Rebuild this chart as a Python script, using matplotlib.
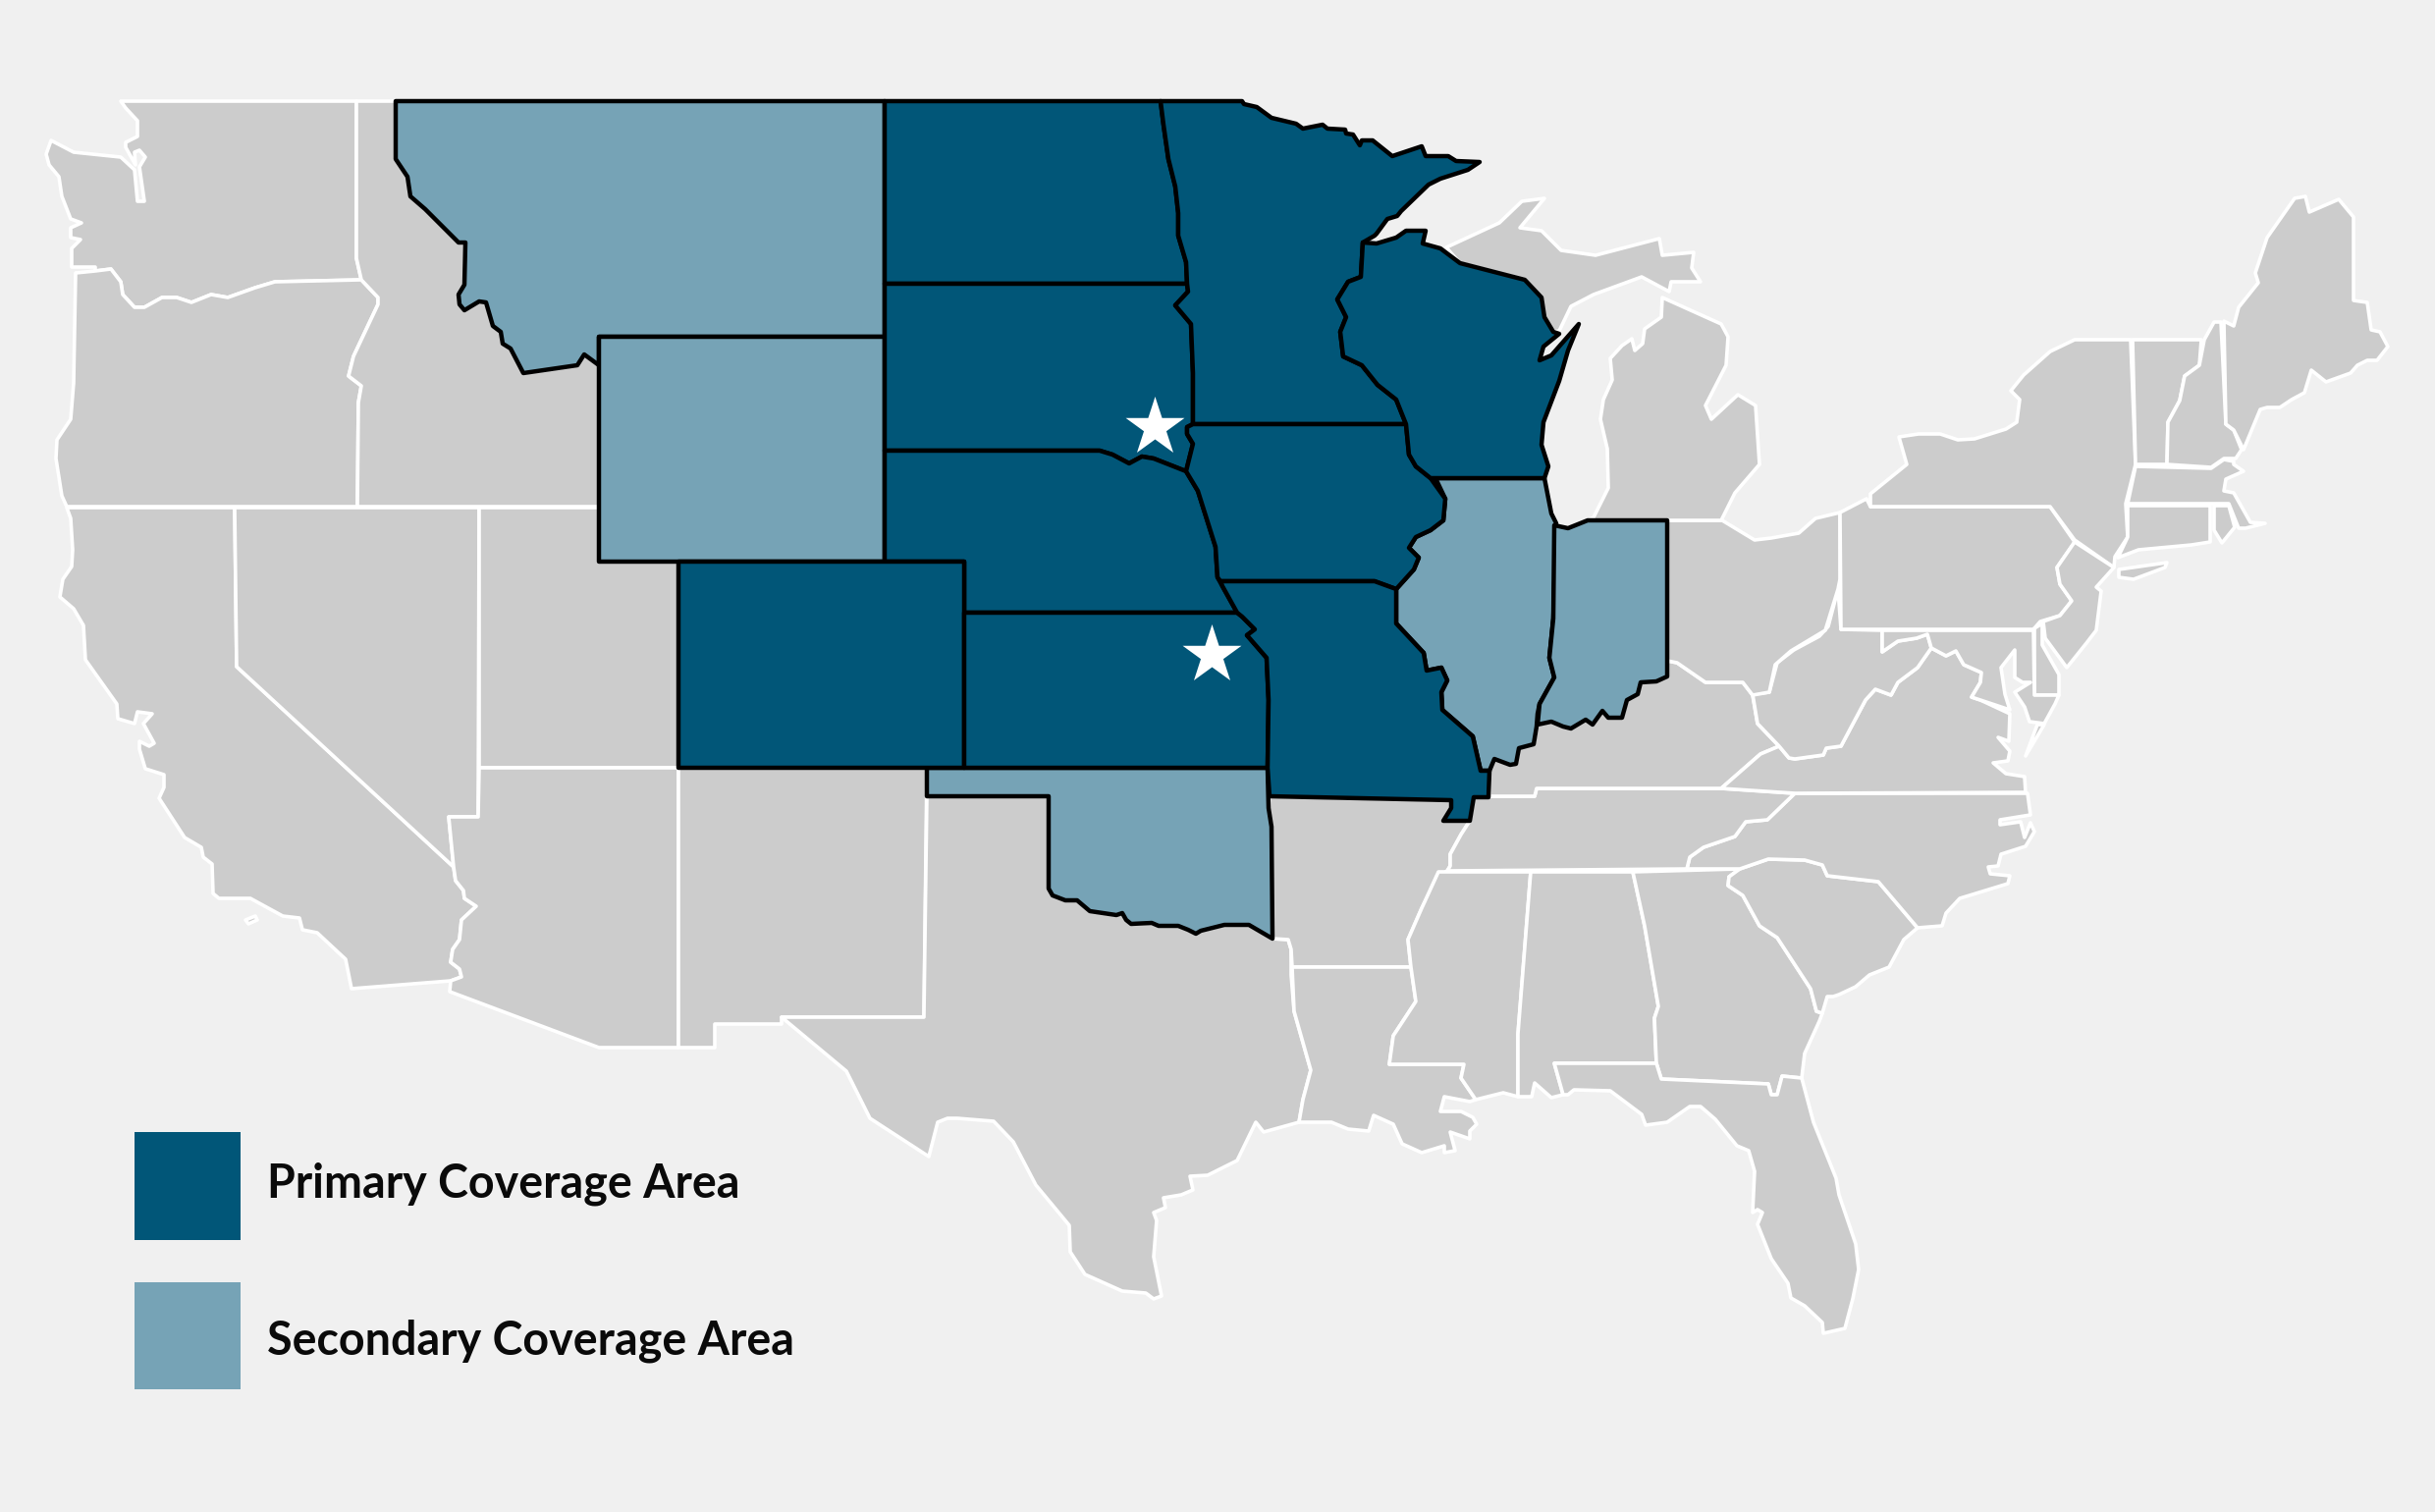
import matplotlib
matplotlib.use("Agg")
import matplotlib.pyplot as plt
from matplotlib.patches import Polygon, Rectangle

# State outlines (x, y on the 2480 x 1540 map grid)
WA = [(123,103),(363,103),(363,263),(368,285),(280,287),(260,293),(232,303),(215,300),(195,308),(180,303),(165,303),(147,313),(137,313),(125,300),(123,287),(113,274),(97,276),(97,272),(73,272),(73,253),(82,244),(72,242),(72,232),(83,227),(72,223),(63,200),(60,180),(50,168),(47,157),(52,143),(75,155),(123,160),(137,173),(140,205),(147,205),(142,170),(148,160),(142,153),(137,155),(138,168),(128,150),(128,145),(140,139),(140,123),(128,110)]
OR = [(77,278),(97,276),(113,274),(123,287),(125,300),(137,313),(147,313),(165,303),(180,303),(195,308),(215,300),(232,303),(260,293),(280,287),(368,285),(385,303),(385,310),(360,363),(355,383),(368,393),(365,410),(364,516),(68,516),(63,505),(57,467),(58,448),(72,427),(75,390)]
CA = [(68,517),(239,517),(241,679),(462,883),(464,897),(472,907),(473,915),(485,923),(470,937),(468,957),(461,967),(459,980),(468,987),(470,995),(459,999),(358,1007),(352,977),(323,950),(308,947),(305,935),(288,933),(255,915),(223,915),(217,910),(216,880),(207,873),(205,863),(188,853),(162,813),(167,802),(167,789),(148,783),(142,763),(142,755),(152,760),(157,757),(146,737),(155,727),(140,725),(137,737),(120,732),(119,717),(87,672),(85,637),(75,620),(61,608),(64,590),(73,577),(74,560),(72,528)]
CA_ISLAND = [(250,937),(260,933),(262,937),(253,941)]
NV = [(239,517),(488,517),(487,832),(457,832),(462,883),(241,679)]
UT = [(488,517),(610,517),(610,572),(691,572),(691,782),(488,782)]
ID = [(363,103),(403,103),(403,162),(415,180),(418,200),(433,213),(467,247),(474,247),(473,290),(467,300),(468,310),(473,316),(488,307),(495,308),(502,332),(510,338),(512,350),(520,355),(533,380),(588,372),(595,361),(610,372),(610,516),(364,516),(365,410),(368,393),(355,383),(360,363),(385,310),(385,303),(368,285),(363,263)]
AZ = [(488,782),(691,782),(691,1067),(610,1067),(458,1010),(459,999),(470,995),(468,987),(459,980),(461,967),(468,957),(470,937),(485,923),(473,915),(472,907),(464,897),(462,883),(457,832),(487,832)]
NM = [(691,782),(944,782),(941,1036),(796,1036),(796,1043),(728,1043),(728,1067),(691,1067)]
TX = [(944,811),(1068,811),(1068,905),(1072,912),(1085,917),(1097,917),(1110,928),(1137,932),(1143,930),(1147,937),(1152,941),(1173,940),(1180,943),(1200,943),(1210,947),(1218,951),(1223,948),(1247,942),(1272,942),(1296,956),(1312,957),(1315,967),(1315,993),(1318,1030),(1335,1090),(1327,1120),(1323,1143),(1287,1153),(1279,1143),(1260,1182),(1230,1197),(1212,1198),(1215,1212),(1203,1217),(1185,1220),(1187,1230),(1175,1235),(1178,1243),(1175,1280),(1183,1320),(1175,1323),(1167,1317),(1143,1315),(1105,1298),(1090,1275),(1089,1248),(1055,1207),(1032,1163),(1012,1142),(975,1139),(965,1139),(955,1143),(946,1178),(886,1139),(862,1091),(796,1036),(941,1036)]
AR = [(1293,811),(1478,815),(1478,823),(1470,836),(1497,836),(1488,850),(1477,870),(1477,882),(1474,887),(1465,892),(1448,925),(1434,957),(1437,985),(1316,985),(1315,967),(1312,957),(1296,956),(1295,880),(1295,842),(1292,823)]
LA = [(1316,985),(1437,985),(1442,1020),(1419,1055),(1415,1084),(1491,1084),(1488,1098),(1503,1120),(1497,1122),(1471,1117),(1467,1132),(1488,1132),(1500,1138),(1504,1145),(1497,1152),(1497,1160),(1477,1153),(1482,1172),(1471,1174),(1471,1167),(1448,1174),(1428,1165),(1419,1145),(1399,1136),(1394,1152),(1373,1150),(1356,1143),(1323,1143),(1327,1120),(1335,1090),(1318,1030)]
MS = [(1465,888),(1559,888),(1546,1053),(1546,1117),(1531,1113),(1503,1120),(1488,1098),(1491,1084),(1415,1084),(1419,1055),(1442,1020),(1437,985),(1434,957),(1448,925)]
AL = [(1559,888),(1663,888),(1675,943),(1689,1025),(1685,1037),(1687,1083),(1583,1083),(1592,1115),(1580,1118),(1563,1103),(1560,1117),(1546,1117),(1546,1053)]
GA = [(1663,888),(1772,885),(1761,893),(1760,902),(1775,912),(1792,943),(1810,955),(1844,1007),(1850,1030),(1856,1032),(1853,1040),(1838,1073),(1835,1098),(1815,1096),(1810,1115),(1804,1115),(1801,1104),(1692,1099),(1687,1083),(1685,1037),(1689,1025),(1675,943)]
FL = [(1583,1083),(1687,1083),(1692,1099),(1801,1104),(1804,1115),(1810,1115),(1815,1096),(1835,1098),(1847,1143),(1870,1200),(1873,1217),(1890,1267),(1893,1293),(1887,1323),(1879,1353),(1857,1358),(1856,1347),(1838,1330),(1824,1322),(1821,1307),(1804,1282),(1790,1247),(1795,1235),(1790,1232),(1785,1235),(1787,1193),(1781,1172),(1769,1167),(1747,1140),(1732,1127),(1721,1127),(1698,1143),(1676,1146),(1672,1135),(1640,1111),(1603,1110),(1597,1115),(1592,1115)]
SC = [(1772,885),(1801,875),(1838,876),(1856,881),(1861,892),(1913,898),(1953,945),(1939,957),(1924,985),(1904,993),(1890,1005),(1873,1013),(1867,1015),(1861,1015),(1856,1032),(1850,1030),(1844,1007),(1810,955),(1792,943),(1775,912),(1760,902),(1761,893)]
NC = [(1828,808),(2065,808),(2068,830),(2037,835),(2037,840),(2058,837),(2062,853),(2068,838),(2072,847),(2063,862),(2038,870),(2035,882),(2025,883),(2027,890),(2047,892),(2045,900),(1996,915),(1982,930),(1978,943),(1953,945),(1913,898),(1861,892),(1856,881),(1838,876),(1801,875),(1772,885),(1718,885),(1721,873),(1735,863),(1767,852),(1778,837),(1800,835)]
TN = [(1517,811),(1563,811),(1565,803),(1753,803),(1828,808),(1800,835),(1778,837),(1767,852),(1735,863),(1721,873),(1718,885),(1474,887),(1477,882),(1477,870),(1488,850),(1497,836),(1501,812)]
KY = [(1517,785),(1522,773),(1538,779),(1544,778),(1547,762),(1562,758),(1566,738),(1580,735),(1592,740),(1600,742),(1615,733),(1622,738),(1632,724),(1638,731),(1652,731),(1657,713),(1668,707),(1671,695),(1687,694),(1698,689),(1698,673),(1708,675),(1737,695),(1775,695),(1785,708),(1790,737),(1812,760),(1793,768),(1753,803),(1565,803),(1563,811),(1517,811)]
VA = [(1812,760),(1822,772),(1828,773),(1857,769),(1860,762),(1875,760),(1900,713),(1910,702),(1926,708),(1933,695),(1953,680),(1967,660),(1982,668),(1992,663),(2000,677),(2018,685),(2017,695),(2008,710),(2017,713),(2047,727),(2046,755),(2035,751),(2047,765),(2045,775),(2030,777),(2043,788),(2062,791),(2063,807),(1828,808),(1753,803),(1793,768)]
VA_SHORE = [(2075,738),(2082,738),(2063,770)]
WV = [(1785,707),(1802,705),(1810,675),(1827,662),(1853,648),(1862,638),(1872,600),(1875,641),(1917,642),(1917,664),(1933,653),(1952,650),(1963,646),(1967,660),(1953,680),(1933,695),(1926,708),(1910,702),(1900,713),(1875,760),(1860,762),(1857,769),(1828,773),(1822,772),(1812,760),(1790,737)]
OH = [(1698,530),(1754,530),(1787,550),(1804,548),(1832,543),(1849,528),(1874,522),(1874,590),(1872,600),(1859,642),(1824,663),(1808,677),(1802,705),(1785,708),(1775,695),(1737,695),(1708,675),(1698,673)]
MI_LOWER = [(1617,530),(1623,527),(1638,497),(1637,457),(1630,427),(1633,407),(1642,387),(1640,365),(1652,352),(1662,345),(1665,357),(1673,350),(1675,335),(1692,323),(1693,303),(1753,330),(1760,343),(1758,372),(1737,413),(1743,427),(1770,402),(1788,413),(1792,473),(1767,502),(1753,530)]
MI_UPPER = [(1473,252),(1527,227),(1550,205),(1573,202),(1548,232),(1570,235),(1590,255),(1625,260),(1690,243),(1693,260),(1725,257),(1723,273),(1732,287),(1702,287),(1700,297),(1672,282),(1623,300),(1600,312),(1588,337),(1582,338),(1573,323),(1570,303),(1553,285),(1487,268)]
PA = [(1874,522),(1901,508),(1905,516),(2088,516),(2113,552),(2095,578),(2098,595),(2110,612),(2098,627),(2078,633),(2071,641),(1875,641)]
NY = [(1905,503),(1942,473),(1934,445),(1954,442),(1976,442),(1994,448),(2011,447),(2043,437),(2054,430),(2057,407),(2048,398),(2061,382),(2088,358),(2113,346),(2170,346),(2175,473),(2165,513),(2167,547),(2154,567),(2153,578),(2113,550),(2088,516),(1905,516)]
NY_ISLAND = [(2158,580),(2207,573),(2205,578),(2173,590),(2158,588)]
NJ = [(2113,552),(2153,578),(2135,598),(2140,602),(2135,642),(2125,655),(2105,680),(2083,650),(2081,633),(2098,627),(2110,612),(2098,595),(2095,578)]
DE = [(2080,635),(2080,657),(2097,687),(2097,708),(2072,708),(2072,640)]
MD = [(1917,642),(2071,642),(2072,708),(2097,708),(2093,717),(2082,737),(2067,735),(2062,720),(2052,705),(2060,700),(2068,695),(2060,695),(2052,690),(2052,662),(2038,680),(2042,707),(2047,723),(2017,713),(2008,710),(2017,695),(2018,685),(2000,677),(1992,663),(1982,668),(1967,660),(1963,646),(1952,650),(1933,653),(1917,664)]
VT = [(2172,346),(2242,346),(2240,372),(2225,383),(2220,408),(2208,430),(2207,473),(2175,473)]
NH = [(2245,346),(2255,328),(2262,328),(2267,432),(2275,438),(2283,458),(2277,467),(2265,467),(2252,476),(2207,473),(2208,430),(2220,408),(2225,383),(2240,372)]
ME = [(2265,327),(2275,332),(2280,313),(2300,288),(2297,278),(2309,242),(2337,202),(2348,200),(2352,216),(2382,203),(2397,221),(2397,306),(2411,308),(2415,336),(2424,338),(2432,353),(2421,367),(2411,367),(2401,372),(2394,380),(2369,389),(2354,377),(2347,400),(2334,407),(2322,415),(2309,415),(2302,417),(2285,458),(2275,438),(2267,432)]
MA = [(2175,475),(2252,477),(2265,468),(2275,470),(2275,473),(2285,480),(2267,488),(2265,500),(2275,502),(2292,532),(2307,533),(2287,538),(2280,538),(2270,513),(2167,513)]
CT = [(2167,515),(2251,515),(2251,552),(2232,555),(2178,560),(2157,568),(2167,547)]
RI = [(2255,515),(2270,515),(2276,537),(2263,553),(2255,540)]

MT = [(403,103),(901,103),(901,343),(610,343),(610,372),(595,361),(588,372),(533,380),(520,355),(512,350),(510,338),(502,332),(495,308),(488,307),(473,316),(468,310),(467,300),(473,290),(474,247),(467,247),(433,213),(418,200),(415,180),(403,162)]
WY = [(610,343),(901,343),(901,572),(610,572)]
IL = [(1462,487),(1573,487),(1580,523),(1585,533),(1582,630),(1578,670),(1583,690),(1568,717),(1566,727),(1565,740),(1562,758),(1547,762),(1544,778),(1538,779),(1522,773),(1517,785),(1508,785),(1500,750),(1469,723),(1468,705),(1474,693),(1468,680),(1453,683),(1450,665),(1422,635),(1422,600),(1440,580),(1445,568),(1435,558),(1442,547),(1457,540),(1470,530),(1472,508)]
IN = [(1583,535),(1597,538),(1617,530),(1698,530),(1698,689),(1687,694),(1671,695),(1668,707),(1657,713),(1652,731),(1638,731),(1632,724),(1622,738),(1615,733),(1600,742),(1592,740),(1580,735),(1566,738),(1568,717),(1583,690),(1578,670),(1582,630)]
OK = [(944,782),(1291,782),(1292,823),(1295,842),(1296,956),(1272,942),(1247,942),(1223,948),(1218,951),(1210,947),(1200,943),(1180,943),(1173,940),(1152,941),(1147,937),(1143,930),(1137,932),(1110,928),(1097,917),(1085,917),(1072,912),(1068,905),(1068,811),(944,811)]

ND = [(901,103),(1182,103),(1185,127),(1190,162),(1197,190),(1200,217),(1200,240),(1208,267),(1209,289),(901,289)]
SD = [(901,289),(1209,289),(1210,297),(1197,311),(1213,330),(1215,380),(1215,432),(1209,435),(1209,442),(1215,452),(1208,480),(1175,467),(1163,465),(1150,472),(1133,463),(1120,459),(901,459)]
NE = [(901,459),(1120,459),(1133,463),(1150,472),(1163,465),(1175,467),(1208,480),(1220,500),(1238,557),(1240,588),(1245,597),(1260,624),(982,624),(982,572),(901,572)]
CO = [(691,572),(982,572),(982,782),(691,782)]
KS = [(982,624),(1260,624),(1265,628),(1278,641),(1270,647),(1290,670),(1292,713),(1291,782),(982,782)]
MN = [(1182,103),(1265,103),(1267,106),(1280,109),(1295,120),(1320,126),(1327,131),(1347,127),(1352,131),(1370,132),(1371,136),(1378,137),(1385,148),(1387,143),(1398,143),(1418,159),(1448,149),(1452,159),(1475,159),(1483,164),(1507,165),(1495,173),(1467,182),(1455,188),(1427,215),(1423,220),(1413,223),(1402,238),(1400,240),(1388,247),(1386,282),(1373,287),(1362,305),(1371,323),(1365,338),(1368,363),(1387,372),(1403,392),(1422,407),(1432,432),(1215,432),(1215,380),(1213,330),(1197,311),(1210,297),(1209,289),(1208,267),(1200,240),(1200,217),(1197,190),(1190,162),(1185,127)]
IA = [(1215,432),(1432,432),(1435,463),(1442,475),(1457,487),(1472,508),(1470,530),(1457,540),(1442,547),(1435,558),(1445,568),(1440,580),(1422,600),(1400,592),(1243,592),(1240,588),(1238,557),(1220,500),(1208,480),(1215,452),(1209,442),(1209,435)]
WI = [(1402,248),(1422,242),(1432,235),(1452,235),(1449,248),(1467,253),(1487,268),(1553,285),(1570,303),(1573,323),(1582,338),(1588,340),(1572,353),(1568,367),(1580,362),(1608,330),(1597,357),(1588,388),(1572,430),(1570,453),(1577,475),(1573,487),(1457,487),(1442,475),(1435,463),(1432,432),(1422,407),(1403,392),(1387,372),(1368,363),(1365,338),(1371,323),(1362,305),(1373,287),(1386,282),(1388,247)]
MO = [(1243,592),(1400,592),(1422,600),(1422,635),(1450,665),(1453,683),(1468,680),(1474,693),(1468,705),(1469,723),(1500,750),(1508,785),(1517,785),(1516,812),(1501,812),(1497,836),(1470,836),(1478,823),(1478,815),(1293,811),(1291,782),(1292,713),(1290,670),(1270,647),(1278,641),(1265,628),(1260,624),(1245,597)]

background_states = [WA, OR, CA, CA_ISLAND, NV, UT, ID, AZ, NM, TX, AR, LA, MS, AL, GA, FL, SC, NC, TN, KY, VA, VA_SHORE, WV, OH, MI_LOWER, MI_UPPER, PA, NY, NY_ISLAND, NJ, DE, MD, VT, NH, ME, MA, CT, RI]
secondary_states = [MT, WY, IL, IN, OK]
primary_states = [ND, SD, NE, CO, KS, MN, IA, WI, MO]

star_x = [1176, 1234]
star_y = [435, 667]

legend_labels = ["Primary Coverage Area", "Secondary Coverage Area"]

BG = "#F0F0F0"
GRAY = "#CCCCCC"
PRIMARY = "#015678"
SECONDARY = "#76A3B6"

fig = plt.figure(figsize=(24.8, 15.4), dpi=100, facecolor=BG)
ax = fig.add_axes([0, 0, 1, 1])
ax.set_xlim(0, 2480)
ax.set_ylim(1540, 0)
ax.axis("off")

for s in background_states:
    ax.add_patch(Polygon(s, closed=True, facecolor=GRAY, edgecolor="white", lw=2.6, joinstyle="round", zorder=2))
for s in secondary_states:
    ax.add_patch(Polygon(s, closed=True, facecolor=SECONDARY, edgecolor="black", lw=3.2, joinstyle="round", zorder=3))
for s in primary_states:
    ax.add_patch(Polygon(s, closed=True, facecolor=PRIMARY, edgecolor="black", lw=3.2, joinstyle="round", zorder=4))

ax.scatter(star_x, star_y, marker="*", s=2058, c="white", linewidths=0, zorder=6)

ax.add_patch(Rectangle((137, 1153), 108, 110, facecolor=PRIMARY, edgecolor="none", zorder=5))
ax.add_patch(Rectangle((137, 1306), 108, 109, facecolor=SECONDARY, edgecolor="none", zorder=5))
ax.text(272, 1219, legend_labels[0], family="Lato", fontweight="bold", fontsize=33.6, color="#0a0a0a", va="baseline", ha="left", zorder=6)
ax.text(272, 1380, legend_labels[1], family="Lato", fontweight="bold", fontsize=33.6, color="#0a0a0a", va="baseline", ha="left", zorder=6)

fig.savefig("out.png", dpi=100, facecolor=BG)
